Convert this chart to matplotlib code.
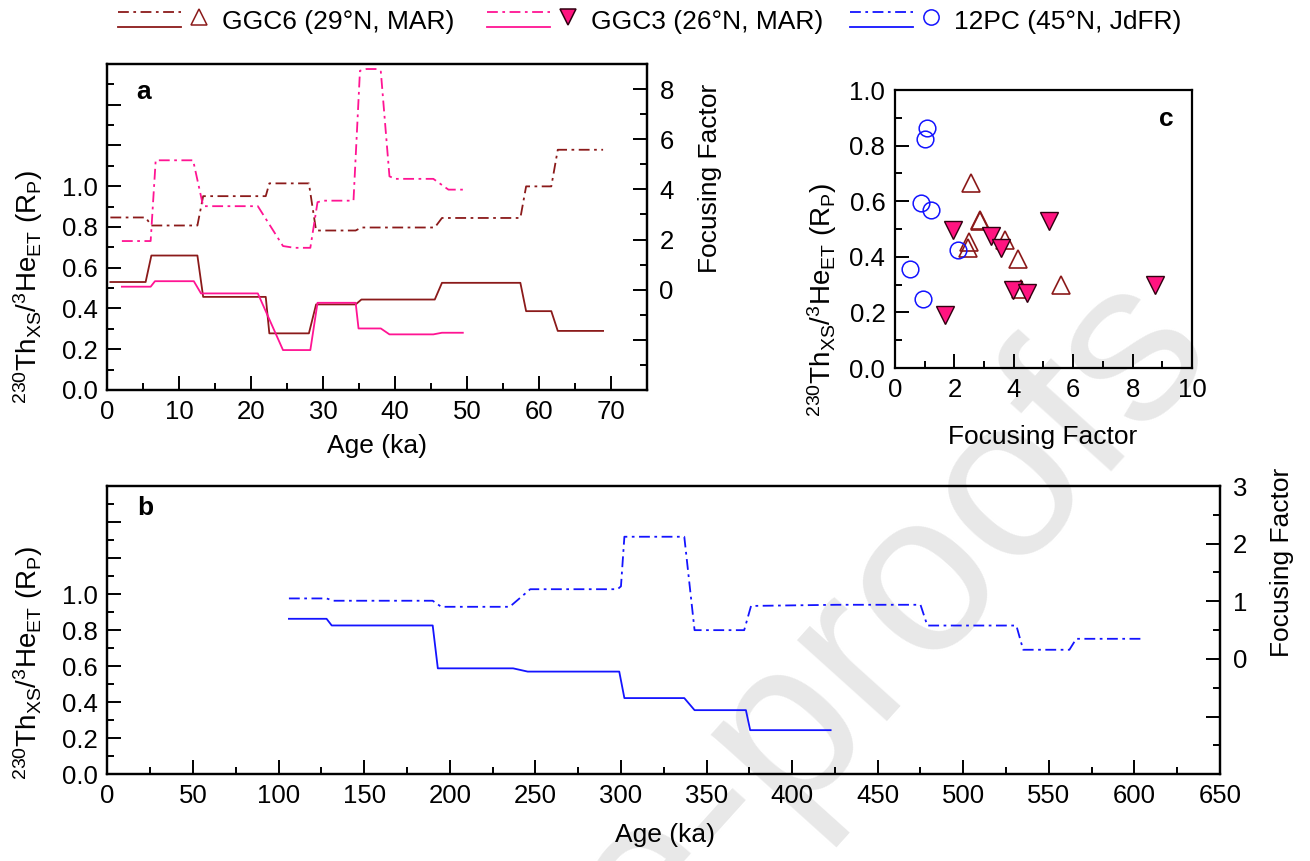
import matplotlib
matplotlib.use('Agg')
import matplotlib.pyplot as plt
from matplotlib.ticker import MultipleLocator

plt.rcParams['font.family'] = ['Liberation Sans', 'DejaVu Sans']
plt.rcParams['mathtext.fontset'] = 'custom'
plt.rcParams['mathtext.rm'] = 'Liberation Sans'
plt.rcParams['mathtext.default'] = 'regular'

# GGC6 (29N, MAR): Th/He ratio (R_P) and focusing factor vs age (ka)
ggc6_age = [0.4, 5.3, 6.1, 12.5, 13.3, 22.0, 22.5, 28.0, 29.0, 34.5, 35.3, 45.5, 46.5, 57.4, 58.2, 61.7, 62.6, 68.9]
ggc6_rp = [0.53, 0.53, 0.66, 0.66, 0.457, 0.457, 0.278, 0.278, 0.42, 0.42, 0.444, 0.444, 0.526, 0.526, 0.387, 0.387, 0.29, 0.29]
ggc6_ff = [2.88, 2.88, 2.56, 2.56, 3.73, 3.73, 4.24, 4.24, 2.36, 2.36, 2.48, 2.48, 2.86, 2.86, 4.12, 4.12, 5.58, 5.58]

# GGC3 (26N, MAR)
ggc3_age_rp = [2.0, 6.0, 6.6, 12.0, 13.0, 20.9, 24.4, 28.2, 29.2, 34.5, 34.9, 38.0, 39.2, 45.3, 46.5, 49.4]
ggc3_rp = [0.507, 0.507, 0.534, 0.534, 0.474, 0.474, 0.196, 0.196, 0.428, 0.428, 0.302, 0.302, 0.273, 0.273, 0.281, 0.281]
ggc3_age_ff = [2.0, 6.0, 6.7, 11.9, 13.3, 20.9, 24.4, 26.0, 28.2, 29.2, 30.0, 34.2, 35.1, 36.0, 37.5, 38.0, 39.2, 40.0, 45.3, 47.4, 49.4]
ggc3_ff = [1.94, 1.94, 5.16, 5.16, 3.33, 3.33, 1.74, 1.67, 1.67, 3.49, 3.55, 3.55, 8.73, 8.8, 8.8, 8.7, 4.52, 4.42, 4.42, 3.99, 3.99]

# 12PC (45N, JdFR)
pc12_age_rp = [106, 128, 131, 190, 193, 237, 245.5, 299, 302, 337, 343, 373, 375.5, 422.5]
pc12_rp = [0.863, 0.863, 0.826, 0.826, 0.588, 0.588, 0.570, 0.570, 0.423, 0.423, 0.356, 0.356, 0.245, 0.245]
pc12_age_ff = [106, 128, 132, 190, 195, 235, 247, 298, 300, 302, 337, 343, 372, 376, 426, 475, 479, 531, 535, 562, 566, 605]
pc12_ff = [1.05, 1.05, 1.01, 1.01, 0.905, 0.905, 1.21, 1.21, 1.26, 2.12, 2.12, 0.50, 0.50, 0.92, 0.94, 0.94, 0.58, 0.58, 0.16, 0.16, 0.35, 0.35]

# R_P vs focusing factor, one point per interval
sc6_ff = [2.55, 2.86, 2.86, 2.49, 2.45, 3.70, 4.13, 4.24, 5.58]
sc6_rp = [0.666, 0.534, 0.53, 0.453, 0.43, 0.462, 0.393, 0.285, 0.297]
sc3_ff = [1.95, 1.70, 3.23, 3.56, 3.99, 4.44, 5.18, 8.75]
sc3_rp = [0.498, 0.192, 0.474, 0.432, 0.28, 0.27, 0.53, 0.297]
sc12_ff = [1.08, 1.02, 0.88, 1.22, 2.13, 0.51, 0.93]
sc12_rp = [0.864, 0.825, 0.592, 0.568, 0.424, 0.357, 0.249]

col6 = '#8B1A1A'
col3 = '#FF1493'
col12 = '#1414FF'
dashdot = (0, (6, 2.5, 1.5, 2.5))
FS = 19
TS = 18.5
LW = 1.3
rp_label = r'$^{230}$Th$_{XS}$/$^{3}$He$_{ET}$ (R$_{P}$)'

fig = plt.figure(figsize=(13.1, 8.61), dpi=100)

# faint watermark behind everything
fig.text(0.618, 0.19, 'Pre-proofs', rotation=48, fontsize=165, color='#e8e8e8',
         ha='center', va='center', zorder=-10)


def frame(ax):
    for s in ax.spines.values():
        s.set_linewidth(1.6)
    ax.set_facecolor('none')
    ax.tick_params(which='both', direction='in', width=1.4, labelsize=TS, top=False)
    ax.tick_params(which='major', length=10)
    ax.tick_params(which='minor', length=5)


def left_rp(ax):
    ax.set_ylim(0, 1.6)
    ax.yaxis.set_major_locator(MultipleLocator(0.2))
    ax.yaxis.set_minor_locator(MultipleLocator(0.1))
    ax.yaxis.set_major_formatter(lambda v, p: f'{v:.1f}' if v < 1.05 else '')
    ax.tick_params(axis='y', which='both', right=False, pad=7)
    ax.tick_params(axis='x', pad=7)


# ---- panel a
axa = fig.add_axes([0.08206, 0.54704, 0.4118, 0.37863])
frame(axa)
left_rp(axa)
axa.set_xlim(0, 75)
axa.xaxis.set_major_locator(MultipleLocator(10))
axa.xaxis.set_minor_locator(MultipleLocator(5))
axa.plot(ggc6_age, ggc6_rp, color=col6, lw=LW)
axa.plot(ggc3_age_rp, ggc3_rp, color=col3, lw=LW)

axa2 = axa.twinx()
frame(axa2)
axa2.set_ylim(-4, 9)
axa2.yaxis.set_major_locator(MultipleLocator(2))
axa2.yaxis.set_minor_locator(MultipleLocator(1))
axa2.yaxis.set_major_formatter(lambda v, p: f'{v:g}' if v >= 0 else '')
axa2.tick_params(axis='y', which='both', left=False, pad=9)
axa2.plot(ggc6_age, ggc6_ff, color=col6, lw=LW, ls=dashdot)
axa2.plot(ggc3_age_ff, ggc3_ff, color=col3, lw=LW, ls=dashdot)

axa.text(-0.147, 0.316, rp_label, transform=axa.transAxes, rotation=90,
         ha='center', va='center', fontsize=FS + 1)
axa.text(1.117, 0.65, 'Focusing Factor', transform=axa.transAxes, rotation=90,
         ha='center', va='center', fontsize=FS)
axa.text(0.5, -0.172, 'Age (ka)', transform=axa.transAxes, ha='center', va='center', fontsize=FS)
axa.text(0.066, 0.914, 'a', transform=axa.transAxes, ha='center', va='center',
         fontsize=FS, fontweight='bold')

# ---- panel b
axb = fig.add_axes([0.08206, 0.1007, 0.84924, 0.33484])
frame(axb)
left_rp(axb)
axb.set_xlim(0, 650)
axb.xaxis.set_major_locator(MultipleLocator(50))
axb.xaxis.set_minor_locator(MultipleLocator(25))
axb.plot(pc12_age_rp, pc12_rp, color=col12, lw=LW)

axb2 = axb.twinx()
frame(axb2)
axb2.set_ylim(-2, 3)
axb2.yaxis.set_major_locator(MultipleLocator(1))
axb2.yaxis.set_minor_locator(MultipleLocator(0.5))
axb2.yaxis.set_major_formatter(lambda v, p: f'{v:g}' if v >= 0 else '')
axb2.tick_params(axis='y', which='both', left=False, pad=9)
axb2.plot(pc12_age_ff, pc12_ff, color=col12, lw=LW, ls=dashdot)

axb.text(-0.0715, 0.386, rp_label, transform=axb.transAxes, rotation=90,
         ha='center', va='center', fontsize=FS + 1)
axb.text(1.0557, 0.736, 'Focusing Factor', transform=axb.transAxes, rotation=90,
         ha='center', va='center', fontsize=FS)
axb.text(0.501, -0.21, 'Age (ka)', transform=axb.transAxes, ha='center', va='center', fontsize=FS)
axb.text(0.0337, 0.924, 'b', transform=axb.transAxes, ha='center', va='center',
         fontsize=FS, fontweight='bold')

# ---- panel c
axc = fig.add_axes([0.68321, 0.57259, 0.2267, 0.32288])
frame(axc)
axc.set_xlim(0, 10)
axc.set_ylim(0, 1.0)
axc.xaxis.set_major_locator(MultipleLocator(2))
axc.xaxis.set_minor_locator(MultipleLocator(1))
axc.yaxis.set_major_locator(MultipleLocator(0.2))
axc.yaxis.set_minor_locator(MultipleLocator(0.1))
axc.yaxis.set_major_formatter(lambda v, p: f'{v:.1f}')
axc.tick_params(axis='y', which='both', right=False, pad=7)
axc.tick_params(axis='x', pad=7)
axc.plot(sc6_ff, sc6_rp, ls='none', marker='^', ms=13, mfc='none', mec=col6, mew=1.2)
axc.plot(sc3_ff, sc3_rp, ls='none', marker='v', ms=13, mfc='#FF1480', mec='#300010', mew=1.0)
axc.plot(sc12_ff, sc12_rp, ls='none', marker='o', ms=12, mfc='none', mec=col12, mew=1.1)
axc.text(-0.246, 0.246, rp_label, transform=axc.transAxes, rotation=90,
         ha='center', va='center', fontsize=FS + 1)
axc.text(0.498, -0.247, 'Focusing Factor', transform=axc.transAxes, ha='center', va='center', fontsize=FS)
axc.text(0.912, 0.894, 'c', transform=axc.transAxes, ha='center', va='center',
         fontsize=FS, fontweight='bold')

# ---- legend row across the top, laid out in pixel units
leg = fig.add_axes([0, 0, 1, 1])
leg.set_xlim(0, 1310)
leg.set_ylim(861, 0)
leg.axis('off')
entries = [
    (118, col6, '^', 'none', col6, 'GGC6 (29°N, MAR)'),
    (487, col3, 'v', '#FF1480', '#300010', 'GGC3 (26°N, MAR)'),
    (850, col12, 'o', 'none', col12, '12PC (45°N, JdFR)'),
]
for x0, c, m, fc, ec, name in entries:
    leg.plot([x0, x0 + 63], [12, 12], color=c, lw=LW, ls=dashdot)
    leg.plot([x0, x0 + 63], [27, 27], color=c, lw=LW)
    leg.plot([x0 + 81], [17], marker=m, ms=11, mfc=fc, mec=ec, mew=1.1, ls='none')
    leg.text(x0 + 104, 22, name, fontsize=FS, ha='left', va='center')

fig.savefig('out.png', dpi=100)
